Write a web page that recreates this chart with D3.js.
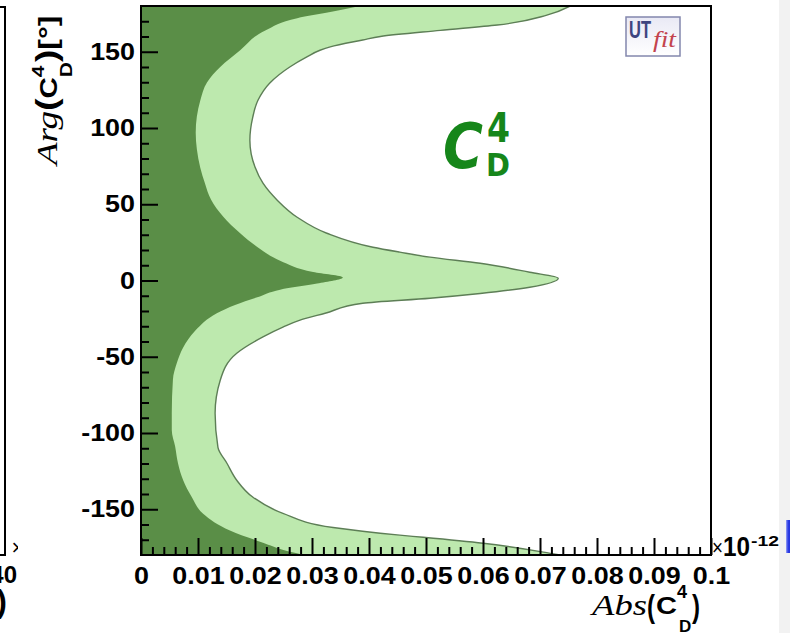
<!DOCTYPE html>
<html>
<head>
<meta charset="utf-8">
<script src="https://cdn.jsdelivr.net/npm/d3@7/dist/d3.min.js"></script>
<style>
  body { margin: 0; background: #fff; }
  svg { display: block; }
</style>
</head>
<body>
<svg id="chart" width="790" height="633"></svg>
<script>
// Probability regions for the Wilson coefficient C_D^4:
// |C| (units of 1e-12) versus its phase (degrees).
// Inner (68%) region boundary, from +180 deg down to -180 deg.
const innerArg = [180, 176, 172, 164, 151, 140, 130, 118, 97, 86, 74, 64, 53, 42, 31, 22, 13, 5.5, 2,
                  -2, -6, -11, -16, -21.5, -33, -44, -54, -65, -87, -98, -109, -120, -131, -142, -153, -164, -172, -177, -180];
const innerAbs = [0.0384, 0.0332, 0.0274, 0.0218, 0.0174, 0.0139, 0.0116, 0.0104, 0.0096, 0.0098, 0.0104, 0.0112, 0.0123, 0.0144, 0.0174, 0.0204, 0.0244, 0.0302, 0.0354,
                  0.0309, 0.0244, 0.0204, 0.0165, 0.0133, 0.0095, 0.0074, 0.0063, 0.0056, 0.0054, 0.0054, 0.0060, 0.0065, 0.0074, 0.0089, 0.0109, 0.0156, 0.0214, 0.0253, 0.0288];

// Outer (95%) region boundary.
const outerArg = [180, 174, 167.5, 164, 160, 157.7, 153.2, 151, 146.6, 140, 129.5, 118, 107, 92, 74.4, 63.8, 52.7, 41.5, 31, 21.8, 18.6, 15.3, 11.3, 5.4, 1.5,
                  -4.4, -8.5, -11.6, -14.9, -21.5, -26, -30.6, -37, -47.7, -65.4, -87, -109.4, -120, -131, -142, -152.7, -162, -167, -168.4, -172.3, -178.9, -180];
const outerAbs = [0.0753, 0.0712, 0.0625, 0.0525, 0.0420, 0.0389, 0.0332, 0.0314, 0.0291, 0.0261, 0.0226, 0.0205, 0.0196, 0.0191, 0.0200, 0.0214, 0.0239, 0.0274, 0.0326, 0.0407, 0.0454, 0.0507, 0.0595, 0.0682, 0.0732,
                  0.0682, 0.0595, 0.0507, 0.0389, 0.0323, 0.0279, 0.0249, 0.0214, 0.0168, 0.0139, 0.0130, 0.0135, 0.0151, 0.0168, 0.0196, 0.0249, 0.0337, 0.0454, 0.0495, 0.0600, 0.0718, 0.0735];

const xTicks = [0, 0.01, 0.02, 0.03, 0.04, 0.05, 0.06, 0.07, 0.08, 0.09, 0.1];
const xTickLabels = ["0", "0.01", "0.02", "0.03", "0.04", "0.05", "0.06", "0.07", "0.08", "0.09", "0.1"];
const yTicks = [-150, -100, -50, 0, 50, 100, 150];
const yTickLabels = ["-150", "-100", "-50", "0", "50", "100", "150"];

const DARK = "#5a8e47";
const LIGHT = "#bde9ae";
const EDGE = "#5d7e56";
const SANS = "'Liberation Sans', Arial, sans-serif";
const SERIF = "'Liberation Serif', 'Times New Roman', serif";

const svg = d3.select("#chart");
const plot = { left: 141, top: 6, right: 711, bottom: 555 };

const x = d3.scaleLinear().domain([0, 0.1]).range([plot.left, plot.right]);
const y = d3.scaleLinear().domain([-180, 180]).range([plot.bottom, plot.top]);

const defs = svg.append("defs");
defs.append("clipPath").attr("id", "plotClip")
  .append("rect")
  .attr("x", plot.left).attr("y", plot.top)
  .attr("width", plot.right - plot.left).attr("height", plot.bottom - plot.top);
defs.append("clipPath").attr("id", "leftClip")
  .append("rect").attr("x", 0).attr("y", 530).attr("width", 18).attr("height", 40);
const lg = defs.append("linearGradient").attr("id", "logoGrad")
  .attr("x1", 0).attr("y1", 0).attr("x2", 0).attr("y2", 1);
lg.append("stop").attr("offset", "0%").attr("stop-color", "#e9e9f5");
lg.append("stop").attr("offset", "100%").attr("stop-color", "#ffffff");
const bg = defs.append("linearGradient").attr("id", "blueGrad")
  .attr("x1", 0).attr("y1", 0).attr("x2", 1).attr("y2", 0);
bg.append("stop").attr("offset", "0%").attr("stop-color", "#9aa4f5");
bg.append("stop").attr("offset", "50%").attr("stop-color", "#2f3fe6");
bg.append("stop").attr("offset", "100%").attr("stop-color", "#2233dd");

// neighbouring panel edge and slide background at the sides
svg.append("rect").attr("x", 779).attr("y", 0).attr("width", 11).attr("height", 633).attr("fill", "#f2f2f2");
svg.append("rect").attr("x", 786).attr("y", 520).attr("width", 4).attr("height", 33).attr("fill", "url(#blueGrad)");
svg.append("path").attr("d", "M0,7H5V555H0").attr("fill", "none").attr("stroke", "#000").attr("stroke-width", 2);
svg.append("text").attr("x", 17).attr("y", 583).attr("text-anchor", "end")
  .attr("font-family", SANS).attr("font-weight", "bold").attr("font-size", 24).text("40");
svg.append("text").attr("x", 7).attr("y", 612).attr("text-anchor", "end")
  .attr("font-family", SANS).attr("font-weight", "bold").attr("font-size", 32).text(")");
svg.append("text").attr("x", 11.5).attr("y", 555).attr("clip-path", "url(#leftClip)")
  .attr("font-family", SANS).attr("font-size", 22).text("×");

// regions
const inner = innerArg.map((a, i) => ({ arg: a, abs: innerAbs[i] }));
const outer = outerArg.map((a, i) => ({ arg: a, abs: outerAbs[i] }));

const area = d3.area()
  .curve(d3.curveMonotoneY)
  .y(d => y(d.arg))
  .x0(x(0))
  .x1(d => x(d.abs));
const edge = d3.line()
  .curve(d3.curveMonotoneY)
  .x(d => x(d.abs))
  .y(d => y(d.arg));

const regions = svg.append("g").attr("clip-path", "url(#plotClip)");
regions.append("path").datum(outer).attr("d", area).attr("fill", LIGHT);
regions.append("path").datum(inner).attr("d", area).attr("fill", DARK);
regions.append("path").datum(outer).attr("d", edge)
  .attr("fill", "none").attr("stroke", EDGE).attr("stroke-width", 1.4);

// axes: ticks point into the frame, labels in a wide bold face
function styleAxis(g) {
  g.select(".domain").remove();
  g.selectAll(".tick line").attr("stroke", "#000").attr("stroke-width", 2);
  g.selectAll(".tick text")
    .attr("fill", "#000")
    .attr("font-family", SANS)
    .attr("font-weight", "bold")
    .attr("font-size", 24)
    .each(function () {
      const len = this.getComputedTextLength();
      if (len > 0) {
        d3.select(this).attr("textLength", len * 1.12).attr("lengthAdjust", "spacingAndGlyphs");
      }
    });
}

const xMinor = d3.range(1, 50).map(i => i * 0.002).filter(v => Math.abs(v * 100 - Math.round(v * 100)) > 1e-6);
svg.append("g").attr("transform", `translate(0,${plot.bottom})`)
  .call(d3.axisBottom(x).tickValues(xMinor).tickSize(-8).tickFormat(""))
  .call(styleAxis);
svg.append("g").attr("transform", `translate(0,${plot.bottom})`)
  .call(d3.axisBottom(x).tickValues(xTicks).tickSize(-17).tickPadding(12)
    .tickFormat((d, i) => xTickLabels[i]))
  .call(styleAxis);

const yMinor = d3.range(-170, 171, 10).filter(v => v % 50 !== 0);
svg.append("g").attr("transform", `translate(${plot.left},0)`)
  .call(d3.axisLeft(y).tickValues(yMinor).tickSize(-8).tickFormat(""))
  .call(styleAxis);
svg.append("g").attr("transform", `translate(${plot.left},0)`)
  .call(d3.axisLeft(y).tickValues(yTicks).tickSize(-17).tickPadding(6)
    .tickFormat((d, i) => yTickLabels[i]))
  .call(styleAxis);

// frame
svg.append("rect")
  .attr("x", plot.left).attr("y", plot.top)
  .attr("width", plot.right - plot.left).attr("height", plot.bottom - plot.top)
  .attr("fill", "none").attr("stroke", "#000").attr("stroke-width", 2);

// exponent of the x axis
svg.append("text").attr("x", 712).attr("y", 555).attr("font-family", SANS).attr("font-size", 22)
  .attr("textLength", 11).attr("lengthAdjust", "spacingAndGlyphs").text("×");
svg.append("text").attr("x", 723).attr("y", 556).attr("font-family", SANS).attr("font-weight", "bold")
  .attr("font-size", 27).attr("textLength", 27).attr("lengthAdjust", "spacingAndGlyphs").text("10");
svg.append("text").attr("x", 751).attr("y", 546).attr("font-family", SANS).attr("font-weight", "bold")
  .attr("font-size", 15).attr("textLength", 28).attr("lengthAdjust", "spacingAndGlyphs").text("-12");

// x-axis title: Abs(C_D^4)
const xt = svg.append("g").attr("fill", "#000");
xt.append("text").attr("x", 592).attr("y", 615).attr("font-family", SERIF).attr("font-style", "italic")
  .attr("font-size", 30).attr("textLength", 55).attr("lengthAdjust", "spacingAndGlyphs").text("Abs");
xt.append("text").attr("x", 647).attr("y", 617).attr("font-family", SANS).attr("font-weight", "bold")
  .attr("font-size", 32).attr("textLength", 8).attr("lengthAdjust", "spacingAndGlyphs").text("(");
xt.append("text").attr("x", 656).attr("y", 614).attr("font-family", SANS).attr("font-weight", "bold")
  .attr("font-size", 23).attr("textLength", 21).attr("lengthAdjust", "spacingAndGlyphs").text("C");
xt.append("text").attr("x", 677).attr("y", 598).attr("font-family", SANS).attr("font-weight", "bold")
  .attr("font-size", 18).text("4");
xt.append("text").attr("x", 679).attr("y", 632).attr("font-family", SANS).attr("font-weight", "bold")
  .attr("font-size", 17).text("D");
xt.append("text").attr("x", 692).attr("y", 617).attr("font-family", SANS).attr("font-weight", "bold")
  .attr("font-size", 32).attr("textLength", 8).attr("lengthAdjust", "spacingAndGlyphs").text(")");

// y-axis title: Arg(C_D^4)[°], read bottom to top
const ytOuter = svg.append("g").attr("transform", "translate(57,165) rotate(-90)");
const ytInner = ytOuter.append("g");
const yt = ytInner.append("text").attr("fill", "#000");
yt.append("tspan").attr("font-family", SERIF).attr("font-style", "italic").attr("font-size", 30).text("Arg");
yt.append("tspan").attr("font-family", SANS).attr("font-weight", "bold").attr("font-size", 30).text("(");
yt.append("tspan").attr("font-family", SANS).attr("font-weight", "bold").attr("font-size", 24).text("C");
yt.append("tspan").attr("font-family", SANS).attr("font-weight", "bold").attr("font-size", 17).attr("dy", -13).text("4");
yt.append("tspan").attr("font-family", SANS).attr("font-weight", "bold").attr("font-size", 17).attr("dx", -9.5).attr("dy", 28).text("D");
yt.append("tspan").attr("font-family", SANS).attr("font-weight", "bold").attr("font-size", 30).attr("dy", -15).text(")");
yt.append("tspan").attr("font-family", SANS).attr("font-weight", "bold").attr("font-size", 26).text("[°]");
const ytw = yt.node().getBBox().width;
ytInner.attr("transform", `scale(${152 / ytw},1)`);

// UTfit badge
const logo = svg.append("g");
logo.append("rect").attr("x", 626).attr("y", 17).attr("width", 54).attr("height", 39)
  .attr("fill", "url(#logoGrad)").attr("stroke", "#8387ad").attr("stroke-width", 1.5);
logo.append("text").attr("x", 629).attr("y", 38).attr("font-family", SANS).attr("font-weight", "bold")
  .attr("font-size", 24).attr("fill", "#3e4580").attr("textLength", 22).attr("lengthAdjust", "spacingAndGlyphs").text("UT");
logo.append("text").attr("x", 653).attr("y", 47).attr("font-family", SERIF).attr("font-style", "italic")
  .attr("font-size", 24).attr("fill", "#c3434e").attr("textLength", 23).attr("lengthAdjust", "spacingAndGlyphs").text("fit");

// coefficient label
const lab = svg.append("g").attr("fill", "#16861a").attr("font-family", "'DejaVu Sans', sans-serif").attr("font-weight", "bold");
lab.append("text").attr("x", 443).attr("y", 168).attr("font-size", 62).attr("font-style", "italic")
  .attr("textLength", 40).attr("lengthAdjust", "spacingAndGlyphs").text("C");
lab.append("text").attr("x", 487).attr("y", 142).attr("font-size", 40)
  .attr("textLength", 23).attr("lengthAdjust", "spacingAndGlyphs").text("4");
lab.append("text").attr("x", 486).attr("y", 176).attr("font-size", 32)
  .attr("textLength", 24).attr("lengthAdjust", "spacingAndGlyphs").text("D");
</script>
</body>
</html>
